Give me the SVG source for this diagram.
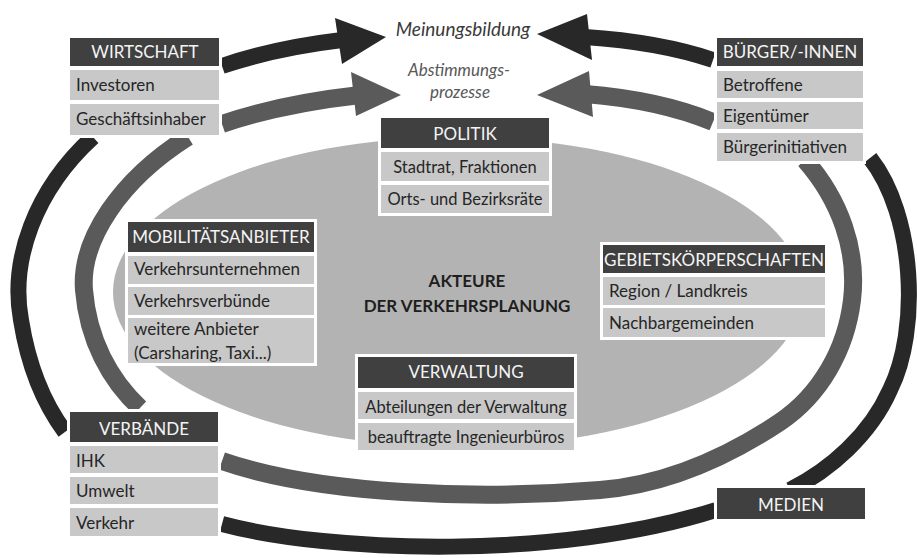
<svg xmlns="http://www.w3.org/2000/svg" width="917" height="558" viewBox="0 0 917 558">
<style>
.bg{fill:#ffffff}
.frame{fill:#ffffff}
.hd{fill:#404040}
.it{fill:#c8c8c8}
.ht{font-family:Lato,"Open Sans",sans-serif;font-size:17px;fill:#f4f4f4;text-anchor:middle}
.tx{font-family:Lato,"Open Sans",sans-serif;font-size:17px;fill:#262626}
.txc{font-family:Lato,"Open Sans",sans-serif;font-size:16.5px;fill:#262626;text-anchor:middle}
.outer{fill:none;stroke:#282828;stroke-width:16}
.mid{fill:none;stroke:#5a5a5a;stroke-width:18}
.headO{fill:#282828}
.headM{fill:#5a5a5a}
.title{font-family:Lato,"Open Sans",sans-serif;font-size:17px;font-weight:bold;fill:#1e1e1e;text-anchor:middle}
.lab{font-family:Lato,"Open Sans",sans-serif;font-style:italic;text-anchor:middle}
</style>
<rect class="bg" x="0" y="0" width="917" height="558"/>

<g id="akteure">
  <ellipse cx="458" cy="292" rx="345" ry="155" fill="#b3b3b3"/>
  <text class="title" x="467" y="287">AKTEURE</text>
  <text class="title" x="467" y="312">DER VERKEHRSPLANUNG</text>
</g>

<g id="connectors">
  <!-- outer dark ring -->
  <path class="outer" d="M 222,66 Q 275,48 342,40"/>
  <polygon class="headO" points="335,18 386,37 342,64"/>
  <path class="outer" d="M 713,60 Q 660,42 585,37"/>
  <polygon class="headO" points="587,14 537,34 592,60"/>
  <path class="outer" d="M 93,137 C 35,190 10,260 21,320 C 29,370 45,405 65,432"/>
  <path class="outer" d="M 222,524 C 330,553 560,560 716,510"/>
  <path class="outer" d="M 870,158 C 915,215 920,330 890,390 C 870,435 830,470 790,490"/>
  <!-- middle gray ring -->
  <path class="mid" d="M 222,124 Q 280,104 360,95"/>
  <polygon class="headM" points="351,72 401,95 356,116"/>
  <path class="mid" d="M 713,122 Q 660,100 585,94"/>
  <polygon class="headM" points="589,71 537,95 593,117"/>
  <path class="mid" d="M 188,137 C 120,180 80,240 84,290 C 88,340 110,380 140,408"/>
  <path class="mid" d="M 805,160 C 840,200 858,250 852,300 C 846,350 820,395 780,422 C 720,462 660,485 600,490 C 480,500 320,495 222,461"/>
</g>

<g id="labels">
  <text class="lab" x="463" y="36" font-size="19" fill="#3a3a3a">Meinungsbildung</text>
  <text class="lab" x="459" y="76" font-size="17" fill="#585858">Abstimmungs-</text>
  <text class="lab" x="460" y="98" font-size="17" fill="#585858">prozesse</text>
</g>

<g id="wirtschaft">
  <rect class="frame" x="67" y="35" width="155" height="103"/>
  <rect class="hd" x="70" y="38" width="149" height="28"/>
  <text class="ht" x="145" y="58">WIRTSCHAFT</text>
  <rect class="it" x="70" y="70" width="149" height="30"/>
  <text class="tx" x="76" y="91">Investoren</text>
  <rect class="it" x="70" y="104" width="149" height="31"/>
  <text class="tx" x="76" y="125">Geschäftsinhaber</text>
</g>

<g id="buerger">
  <rect class="frame" x="714" y="35" width="152" height="129"/>
  <rect class="hd" x="717" y="38" width="146" height="28"/>
  <text class="ht" x="790" y="58">BÜRGER/-INNEN</text>
  <rect class="it" x="717" y="71" width="146" height="27"/>
  <text class="tx" x="723" y="91">Betroffene</text>
  <rect class="it" x="717" y="102" width="146" height="27"/>
  <text class="tx" x="723" y="122">Eigentümer</text>
  <rect class="it" x="717" y="133" width="146" height="28"/>
  <text class="tx" x="723" y="153">Bürgerinitiativen</text>
</g>

<g id="politik">
  <rect class="frame" x="378" y="115" width="174" height="101"/>
  <rect class="hd" x="381" y="118" width="168" height="30"/>
  <text class="ht" x="465" y="140">POLITIK</text>
  <rect class="it" x="381" y="152" width="168" height="29"/>
  <text class="txc" x="465" y="173">Stadtrat, Fraktionen</text>
  <rect class="it" x="381" y="185" width="168" height="28"/>
  <text class="txc" x="465" y="205">Orts- und Bezirksräte</text>
</g>

<g id="mobilitaet">
  <rect class="frame" x="125" y="219" width="192" height="147"/>
  <rect class="hd" x="128" y="222" width="186" height="30"/>
  <text class="ht" x="221" y="243">MOBILITÄTSANBIETER</text>
  <rect class="it" x="128" y="256" width="186" height="28"/>
  <text class="tx" x="134" y="275">Verkehrsunternehmen</text>
  <rect class="it" x="128" y="287" width="186" height="28"/>
  <text class="tx" x="134" y="307">Verkehrsverbünde</text>
  <rect class="it" x="128" y="318" width="186" height="45"/>
  <text class="tx" x="134" y="335">weitere Anbieter</text>
  <text class="tx" x="134" y="359">(Carsharing, Taxi...)</text>
</g>

<g id="gebiet">
  <rect class="frame" x="600" y="242" width="228" height="98"/>
  <rect class="hd" x="603" y="245" width="222" height="28"/>
  <text class="ht" x="714" y="266">GEBIETSKÖRPERSCHAFTEN</text>
  <rect class="it" x="603" y="277" width="222" height="28"/>
  <text class="tx" x="609" y="297">Region / Landkreis</text>
  <rect class="it" x="603" y="308" width="222" height="29"/>
  <text class="tx" x="609" y="329">Nachbargemeinden</text>
</g>

<g id="verwaltung">
  <rect class="frame" x="355" y="354" width="222" height="99"/>
  <rect class="hd" x="358" y="357" width="216" height="31"/>
  <text class="ht" x="466" y="378">VERWALTUNG</text>
  <rect class="it" x="358" y="392" width="216" height="27"/>
  <text class="txc" x="466" y="413">Abteilungen der Verwaltung</text>
  <rect class="it" x="358" y="423" width="216" height="27"/>
  <text class="txc" x="466" y="443">beauftragte Ingenieurbüros</text>
</g>

<g id="verbaende">
  <rect class="frame" x="67" y="409" width="154" height="130"/>
  <rect class="hd" x="70" y="412" width="148" height="30"/>
  <text class="ht" x="144" y="435">VERBÄNDE</text>
  <rect class="it" x="70" y="446" width="148" height="27"/>
  <text class="tx" x="76" y="467">IHK</text>
  <rect class="it" x="70" y="477" width="148" height="27"/>
  <text class="tx" x="76" y="497">Umwelt</text>
  <rect class="it" x="70" y="508" width="148" height="28"/>
  <text class="tx" x="76" y="529">Verkehr</text>
</g>

<g id="medien">
  <rect class="frame" x="714" y="485" width="154" height="37"/>
  <rect class="hd" x="717" y="488" width="148" height="31"/>
  <text class="ht" x="791" y="511">MEDIEN</text>
</g>
</svg>
